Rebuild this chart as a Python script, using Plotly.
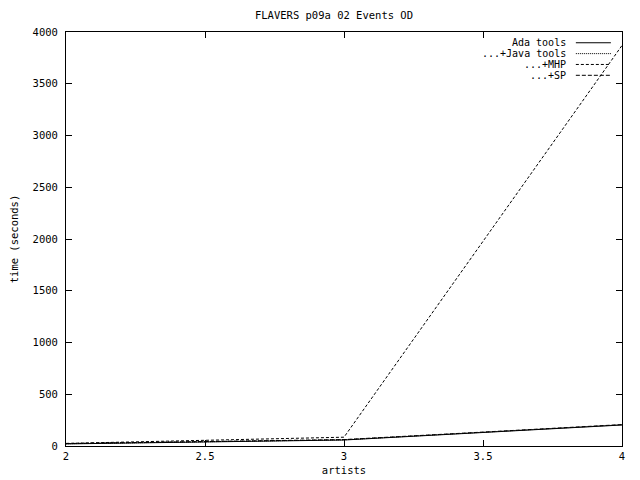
import plotly.graph_objects as go

artists = [2, 3, 4]
ada_tools = [20, 58, 203]
java_tools = [22, 60, 205]
mhp = [25, 85, 3870]
sp = [24, 62, 207]

series_names = ["Ada tools", "...+Java tools", "...+MHP", "...+SP"]
series_values = [ada_tools, java_tools, mhp, sp]
dashes = ["solid", "1px,1px", "3px,2px", "4px,2px"]

FONT = "DejaVu Sans Mono"
FS = 10.5

fig = go.Figure()
for name, vals, d in zip(series_names, series_values, dashes):
    fig.add_trace(go.Scatter(x=artists, y=vals, mode="lines", name=name,
                             line=dict(color="black", width=1, dash=d),
                             showlegend=False))

# custom gnuplot-style legend (text right aligned, sample on the right)
for i, (name, d) in enumerate(zip(series_names, dashes)):
    yp = 0.974 - i * 0.0262
    fig.add_annotation(x=0.902, y=yp, xref="paper", yref="paper", text=name,
                       showarrow=False, xanchor="right", yanchor="middle",
                       font=dict(family=FONT, size=10, color="black"))
    fig.add_shape(type="line", xref="paper", yref="paper",
                  x0=0.917, x1=0.98, y0=yp, y1=yp,
                  line=dict(color="black", width=1, dash=d))

axis_common = dict(showline=True, linecolor="black", linewidth=1, mirror="ticks",
                   ticks="inside", ticklen=6, tickcolor="black", showgrid=False,
                   zeroline=False, automargin=False,
                   tickfont=dict(family=FONT, size=FS, color="black"),
                   title_font=dict(family=FONT, size=FS, color="black"))

fig.update_xaxes(range=[2, 4], tickvals=[2, 2.5, 3, 3.5, 4],
                 ticktext=["2", "2.5", "3", "3.5", "4"],
                 title_text="artists", title_standoff=6, **axis_common)
fig.update_yaxes(range=[0, 4000], tickvals=list(range(0, 4001, 500)),
                 ticklabelstandoff=5,
                 title_text="time (seconds)", title_standoff=14, **axis_common)

# the page body adds an 8px offset; margins compensate so the plot lands in place
fig.update_layout(
    width=640, height=480,
    paper_bgcolor="white", plot_bgcolor="white",
    margin=dict(l=58, r=26, t=24, b=42, autoexpand=False),
    title=dict(text="FLAVERS p09a 02 Events OD", x=(334 - 8) / 640, xanchor="center",
               y=1 - 7 / 480, yanchor="middle", automargin=False,
               font=dict(family=FONT, size=FS, color="black")),
)

fig.write_html("out.html")
